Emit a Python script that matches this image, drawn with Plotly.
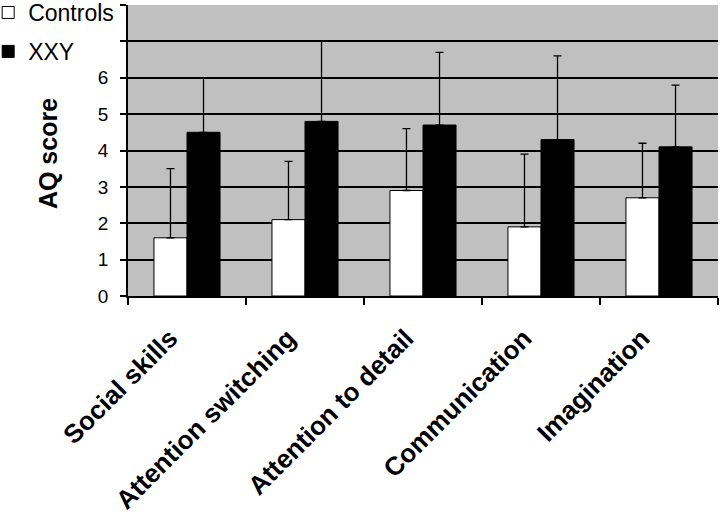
import plotly.graph_objects as go

categories = ["Social skills", "Attention switching", "Attention to detail", "Communication", "Imagination"]
controls_mean = [1.6, 2.1, 2.9, 1.9, 2.7]
controls_sd = [1.9, 1.6, 1.7, 2.0, 1.5]
xxy_mean = [4.5, 4.8, 4.7, 4.3, 4.1]
xxy_sd = [1.5, 2.2, 2.0, 2.3, 1.7]
y_tick_vals = [0, 1, 2, 3, 4, 5, 6, 7, 8]
y_tick_text = ["0", "1", "2", "3", "4", "5", "6", "", ""]

fig = go.Figure()
fig.add_trace(go.Bar(
    name="Controls", x=categories, y=controls_mean,
    marker=dict(color="white", line=dict(color="black", width=1)),
    error_y=dict(type="data", array=controls_sd, arrayminus=[0]*5, symmetric=False,
                 color="black", thickness=1.3, width=4),
    legendgroup="a",
))
fig.add_trace(go.Bar(
    name="XXY", x=categories, y=xxy_mean,
    marker=dict(color="black", line=dict(color="black", width=1)),
    error_y=dict(type="data", array=xxy_sd, arrayminus=[0]*5, symmetric=False,
                 color="black", thickness=1.3, width=4),
    legendgroup="b",
))

fig.add_annotation(
    text="<b>AQ score</b>", xref="paper", yref="paper", x=-0.1356, y=0.491,
    textangle=-90, showarrow=False, font=dict(size=25),
    xanchor="center", yanchor="middle",
)

fig.update_layout(
    width=720, height=523,
    margin=dict(l=128, r=2, t=5, b=227, autoexpand=False),
    paper_bgcolor="white", plot_bgcolor="#c0c0c0",
    barmode="group", bargap=0.44, bargroupgap=0,
    font=dict(family="Liberation Sans, Arial, sans-serif", color="black"),
    legend=dict(x=-0.237, y=1.048,
                xanchor="left", yanchor="top", bgcolor="rgba(0,0,0,0)",
                font=dict(size=23), traceorder="grouped", tracegroupgap=6,
                itemwidth=30),
    xaxis=dict(
        automargin=False,
        tickson="boundaries", ticks="outside", ticklen=7, tickcolor="black", tickwidth=1.5,
        tickangle=-45, tickfont=dict(size=26),
        ticklabelstandoff=15, ticklabelshift=-17,
        tickvals=categories, ticktext=["<b>" + c + "</b>" for c in categories],
        showline=True, linecolor="black", linewidth=1.5, showgrid=False,
    ),
    yaxis=dict(
        automargin=False,
        range=[0, 8], tickvals=y_tick_vals, ticktext=y_tick_text,
        ticks="outside", ticklen=6, tickcolor="black", tickwidth=1.5,
        ticklabelstandoff=8,
        tickfont=dict(size=19, family="Liberation Sans Narrow, Liberation Sans, Arial"),
        showline=True, linecolor="black", linewidth=1.5,
        showgrid=True, gridcolor="black", gridwidth=1.5, zeroline=False,
    ),
)

fig.write_html("out.html", config={"displayModeBar": False},
               post_script="document.body.style.margin='0';")
